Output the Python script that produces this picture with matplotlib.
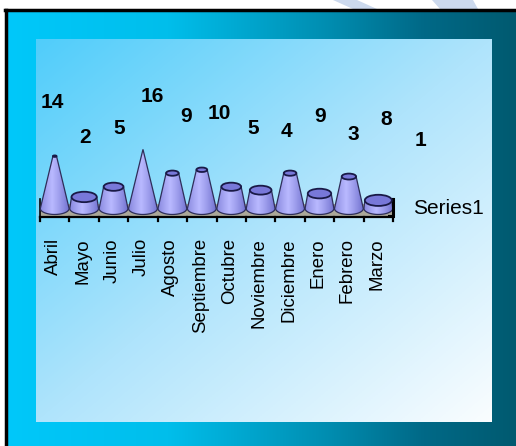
import numpy as np
import matplotlib
matplotlib.use("Agg")
import matplotlib.pyplot as plt
from matplotlib.patches import Polygon, Ellipse, Rectangle, PathPatch
from matplotlib.path import Path

plt.rcParams['font.family'] = ['Liberation Sans', 'DejaVu Sans']

meses = ['Abril', 'Mayo', 'Junio', 'Julio', 'Agosto', 'Septiembre', 'Octubre',
         'Noviembre', 'Diciembre', 'Enero', 'Febrero', 'Marzo']
valores = [14, 2, 5, 16, 9, 10, 5, 4, 9, 3, 8, 1]
serie = 'Series1'

W, H = 516, 446
fig = plt.figure(figsize=(W / 100, H / 100), dpi=100)

# ---- fondo (coordenadas en pixeles)
bg = fig.add_axes([0, 0, 1, 1])
bg.set_xlim(0, W)
bg.set_ylim(H, 0)
bg.axis('off')
bg.add_patch(Rectangle((0, 0), W, H, color='white', zorder=0))
for pts in ([(333, 0), (357, 0), (377, 9), (353, 9)],
            [(432, 0), (473, 0), (478, 9), (440, 9)]):
    bg.add_patch(Polygon(pts, closed=True, color=(0.80, 0.85, 0.93), lw=0, zorder=1))

# marco exterior: degradado horizontal
xs = np.linspace(0, 1, 256)
stops_x = [0, 0.32, 0.64, 0.82, 1]
stops_c = np.array([[0, 200, 250], [0, 190, 235], [0, 140, 175], [0, 105, 135], [0, 90, 112]]) / 255
grad = np.stack([np.interp(xs, stops_x, stops_c[:, k]) for k in range(3)], axis=-1)[None, :, :]
bg.imshow(grad, extent=(5, W, H, 9), aspect='auto', zorder=2)
bg.plot([6, 6], [H, 10], color='black', lw=2.5, zorder=3)
bg.plot([5, W], [10, 10], color='black', lw=2.5, zorder=3)

# panel interior: degradado diagonal
gx, gy = np.meshgrid(np.linspace(0, 1, 200), np.linspace(0, 1, 200))
t = (gx + gy) / 2
c0 = np.array([80, 205, 250]) / 255
c1 = np.array([175, 228, 252]) / 255
c2 = np.array([250, 253, 255]) / 255
inner = np.where(t[..., None] < 0.5,
                 c0 + (c1 - c0) * (t[..., None] / 0.5),
                 c1 + (c2 - c1) * ((t[..., None] - 0.5) / 0.5))
bg.imshow(inner, extent=(36, 492, 422, 39), aspect='auto', zorder=4)

# ---- grafico de conos
ax = fig.add_axes([0, 0, 1, 1])
ax.set_xlim(-1.36, 16.18)
ax.set_ylim(-71.25, 59.93)
ax.axis('off')
ax.patch.set_alpha(0)

n = len(valores)
vmax = max(valores)
r = 0.49
e = 1.75
yb = -1.4

# suelo
ax.add_patch(Rectangle((0, -3.6), n, 3.4, color=(0.67, 0.66, 0.6), lw=0, zorder=1))
ax.plot([0, n], [-3.9, -3.9], color='black', lw=1.6, zorder=2)
for i in range(n + 1):
    ax.plot([i, i], [-3.9, -5.1], color='black', lw=1.6, zorder=2)
ax.plot([0, 0], [1.4, -3.6], color='black', lw=1.2, zorder=2)
ax.plot([n, n], [1.4, -3.6], color='black', lw=2.2, zorder=6)
ax.plot([n - 0.15, n], [1.4, 1.4], color='black', lw=1.5, zorder=6)
ax.plot([n - 0.15, n], [-3.6, -3.6], color='black', lw=1.5, zorder=6)

u = np.linspace(0, 1, 64)
shade = np.clip(1 - np.abs(u - 0.42) / 0.58, 0, 1) ** 0.8
c_edge = np.array([110, 110, 205]) / 255
c_mid = np.array([185, 185, 255]) / 255
cone_img = (c_edge + (c_mid - c_edge) * shade[:, None])[None, :, :]

for i, v in enumerate(valores):
    x = i + 0.5
    rt = r * (1 - v / vmax)
    et = e * rt / r
    th = np.linspace(0, np.pi, 40)
    arc = np.column_stack([x + r * np.cos(th), yb - e * np.sin(th)])
    pts = np.vstack([[x - r, yb], [x - rt, v], [x + rt, v], [x + r, yb], arc, [[x - r, yb]]])
    path = Path(pts)
    patch = PathPatch(path, facecolor='none', edgecolor=(0.18, 0.18, 0.35), lw=0.9, zorder=5)
    ax.add_patch(patch)
    im = ax.imshow(cone_img, extent=(x - r, x + r, yb - e, v + et), aspect='auto', zorder=4)
    im.set_clip_path(patch)
    if rt > 0.01:
        ax.add_patch(Ellipse((x, v), 2 * rt, 2 * et, facecolor=(0.47, 0.47, 0.85),
                             edgecolor=(0.1, 0.1, 0.28), lw=1.3, zorder=6))

# etiquetas de valor
for i, v in enumerate(valores):
    ax.text(0.41 + 1.137 * i, 17.9 + 0.85 * v, str(v), ha='center', va='center',
            fontsize=15, fontweight='bold', color='black', zorder=7)

# etiquetas de categoria
for i, m in enumerate(meses):
    ax.text(i + 0.45, -10.1, m, rotation=90, ha='center', va='top', fontsize=13.4, zorder=7)

ax.text(12.68, -1.25, serie, ha='left', va='center', fontsize=15, zorder=7)

fig.savefig('out.png', dpi=100)
